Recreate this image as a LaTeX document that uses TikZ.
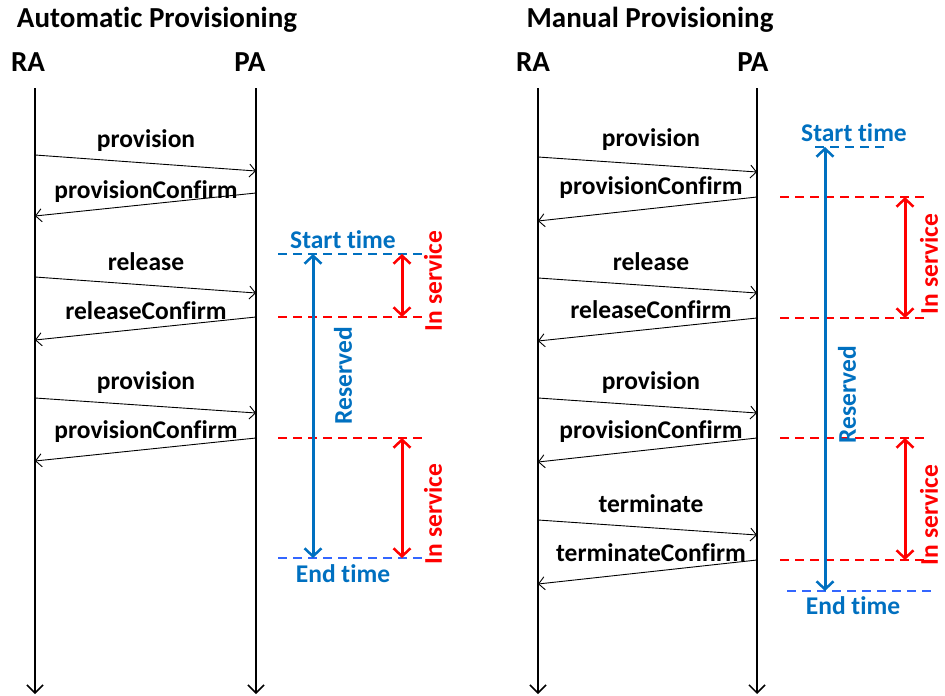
\documentclass[tikz,border=0pt]{standalone}
\usepackage{fontspec}
\setmainfont{Carlito}[Ligatures=NoCommon]
\usetikzlibrary{arrows.meta}
\definecolor{myblue}{HTML}{0070C0}
\definecolor{myblue2}{HTML}{3366FF}
\definecolor{myred}{HTML}{FF0000}
\tikzset{
  lbl/.style={font=\bfseries\fontsize{25.5}{25.5}\selectfont, inner sep=0pt},
  ttl/.style={font=\bfseries\fontsize{29}{29}\selectfont, inner sep=0pt},
  life/.style={line width=2pt, -{Straight Barb[length=8pt,width=16pt,line width=1.5pt]}},
  msg/.style={line width=0.9pt, -{Straight Barb[length=6pt,width=13pt,line width=0.9pt]}},
  bluearr/.style={myblue, line width=3pt, {Straight Barb[length=8pt,width=17pt,line width=2.5pt]}-{Straight Barb[length=8pt,width=17pt,line width=2.5pt]}},
  redarr/.style={myred, line width=3pt, {Straight Barb[length=8pt,width=17pt,line width=2.5pt]}-{Straight Barb[length=8pt,width=17pt,line width=2.5pt]}},
  reddash/.style={myred, line width=1.6pt, dash pattern=on 9pt off 6pt},
  bluedash/.style={myblue, line width=1.6pt, dash pattern=on 9pt off 6pt},
  bluedashb/.style={myblue2, line width=1.6pt, dash pattern=on 9pt off 6pt},
  bluetxt/.style={lbl, text=myblue},
  redtxt/.style={lbl, text=myred, rotate=90},
}
\begin{document}
\begin{tikzpicture}[x=1pt,y=-1pt]
\useasboundingbox (0,0) rectangle (945,696);
% ---------- Left: Automatic ----------
\node[ttl] (t1) at (157,20) {Automatic Provisioning};
\node[ttl] (ra1) at (28,62) {RA};
\node[ttl] (pa1) at (250,62) {PA};
\coordinate (ra1top) at (35,88);
\coordinate (ra1bot) at (35,694);
\coordinate (pa1top) at (256,88);
\coordinate (pa1bot) at (256,694);
\draw[life] (ra1top) -- (ra1bot);
\draw[life] (pa1top) -- (pa1bot);

\coordinate (a1s) at (35,155);  \coordinate (a1e) at (256,171);
\coordinate (a2s) at (256,193); \coordinate (a2e) at (35,216);
\coordinate (a3s) at (35,277);  \coordinate (a3e) at (256,293);
\coordinate (a4s) at (256,317); \coordinate (a4e) at (35,340);
\coordinate (a5s) at (35,398);  \coordinate (a5e) at (256,413);
\coordinate (a6s) at (256,438); \coordinate (a6e) at (35,461);
\draw[msg] (a1s) -- (a1e);
\draw[msg] (a2s) -- (a2e);
\draw[msg] (a3s) -- (a3e);
\draw[msg] (a4s) -- (a4e);
\draw[msg] (a5s) -- (a5e);
\draw[msg] (a6s) -- (a6e);
\node[lbl] (la1) at (146,141) {provision};
\node[lbl] (la2) at (146,192) {provisionConfirm};
\node[lbl] (la3) at (146,262) {release};
\node[lbl] (la4) at (146,311) {releaseConfirm};
\node[lbl] (la5) at (146,383) {provision};
\node[lbl] (la6) at (146,432) {provisionConfirm};

\coordinate (d1a) at (278,254); \coordinate (d1b) at (425,254);
\coordinate (d2a) at (278,317); \coordinate (d2b) at (425,317);
\coordinate (d3a) at (278,438); \coordinate (d3b) at (425,438);
\coordinate (d4a) at (278,558); \coordinate (d4b) at (425,558);
\draw[bluedash] (d1a) -- (d1b);
\draw[reddash] (d2a) -- (d2b);
\draw[reddash] (d3a) -- (d3b);
\draw[bluedashb] (d4a) -- (d4b);
\node[bluetxt] (st1) at (343,240) {Start time};
\node[bluetxt] (et1) at (343,574) {End time};
\coordinate (b1t) at (313,254); \coordinate (b1b) at (313,558);
\draw[bluearr] (b1t) -- (b1b);
\node[bluetxt, rotate=90] (rs1) at (343,376) {Reserved};
\coordinate (r1t) at (402,254); \coordinate (r1b) at (402,317);
\coordinate (r2t) at (402,438); \coordinate (r2b) at (402,558);
\draw[redarr] (r1t) -- (r1b);
\draw[redarr] (r2t) -- (r2b);
\node[redtxt] (is1) at (433,281) {In service};
\node[redtxt] (is2) at (433,514) {In service};

% ---------- Right: Manual ----------
\node[ttl] (t2) at (650,20) {Manual Provisioning};
\node[ttl] (ra2) at (533,62) {RA};
\node[ttl] (pa2) at (753,62) {PA};
\coordinate (ra2top) at (538,88);
\coordinate (ra2bot) at (538,694);
\coordinate (pa2top) at (757,88);
\coordinate (pa2bot) at (757,694);
\draw[life] (ra2top) -- (ra2bot);
\draw[life] (pa2top) -- (pa2bot);

\coordinate (m1s) at (538,157); \coordinate (m1e) at (757,172);
\coordinate (m2s) at (757,197); \coordinate (m2e) at (538,221);
\coordinate (m3s) at (538,278); \coordinate (m3e) at (757,293);
\coordinate (m4s) at (757,318); \coordinate (m4e) at (538,341);
\coordinate (m5s) at (538,398); \coordinate (m5e) at (757,413);
\coordinate (m6s) at (757,438); \coordinate (m6e) at (538,462);
\coordinate (m7s) at (538,520); \coordinate (m7e) at (757,535);
\coordinate (m8s) at (757,560); \coordinate (m8e) at (538,584);
\draw[msg] (m1s) -- (m1e);
\draw[msg] (m2s) -- (m2e);
\draw[msg] (m3s) -- (m3e);
\draw[msg] (m4s) -- (m4e);
\draw[msg] (m5s) -- (m5e);
\draw[msg] (m6s) -- (m6e);
\draw[msg] (m7s) -- (m7e);
\draw[msg] (m8s) -- (m8e);
\node[lbl] (lm1) at (651,140) {provision};
\node[lbl] (lm2) at (651,188) {provisionConfirm};
\node[lbl] (lm3) at (651,262) {release};
\node[lbl] (lm4) at (651,310) {releaseConfirm};
\node[lbl] (lm5) at (651,383) {provision};
\node[lbl] (lm6) at (651,432) {provisionConfirm};
\node[lbl] (lm7) at (651,504) {terminate};
\node[lbl] (lm8) at (651,553) {terminateConfirm};

\coordinate (e1a) at (815,147); \coordinate (e1b) at (887,147);
\coordinate (e2a) at (780,197); \coordinate (e2b) at (927,197);
\coordinate (e3a) at (780,318); \coordinate (e3b) at (927,318);
\coordinate (e4a) at (780,438); \coordinate (e4b) at (927,438);
\coordinate (e5a) at (780,560); \coordinate (e5b) at (927,560);
\coordinate (e6a) at (787,591); \coordinate (e6b) at (933,591);
\draw[bluedash] (e1a) -- (e1b);
\draw[reddash] (e2a) -- (e2b);
\draw[reddash] (e3a) -- (e3b);
\draw[reddash] (e4a) -- (e4b);
\draw[reddash] (e5a) -- (e5b);
\draw[bluedashb] (e6a) -- (e6b);
\node[bluetxt] (st2) at (854,133) {Start time};
\node[bluetxt] (et2) at (853,606) {End time};
\coordinate (b2t) at (825,147); \coordinate (b2b) at (825,591);
\draw[bluearr] (b2t) -- (b2b);
\node[bluetxt, rotate=90] (rs2) at (847,395) {Reserved};
\coordinate (r3t) at (905,197); \coordinate (r3b) at (905,318);
\coordinate (r4t) at (905,438); \coordinate (r4b) at (905,560);
\draw[redarr] (r3t) -- (r3b);
\draw[redarr] (r4t) -- (r4b);
\node[redtxt] (is3) at (929,264) {In service};
\node[redtxt] (is4) at (929,515) {In service};
\end{tikzpicture}
\end{document}
